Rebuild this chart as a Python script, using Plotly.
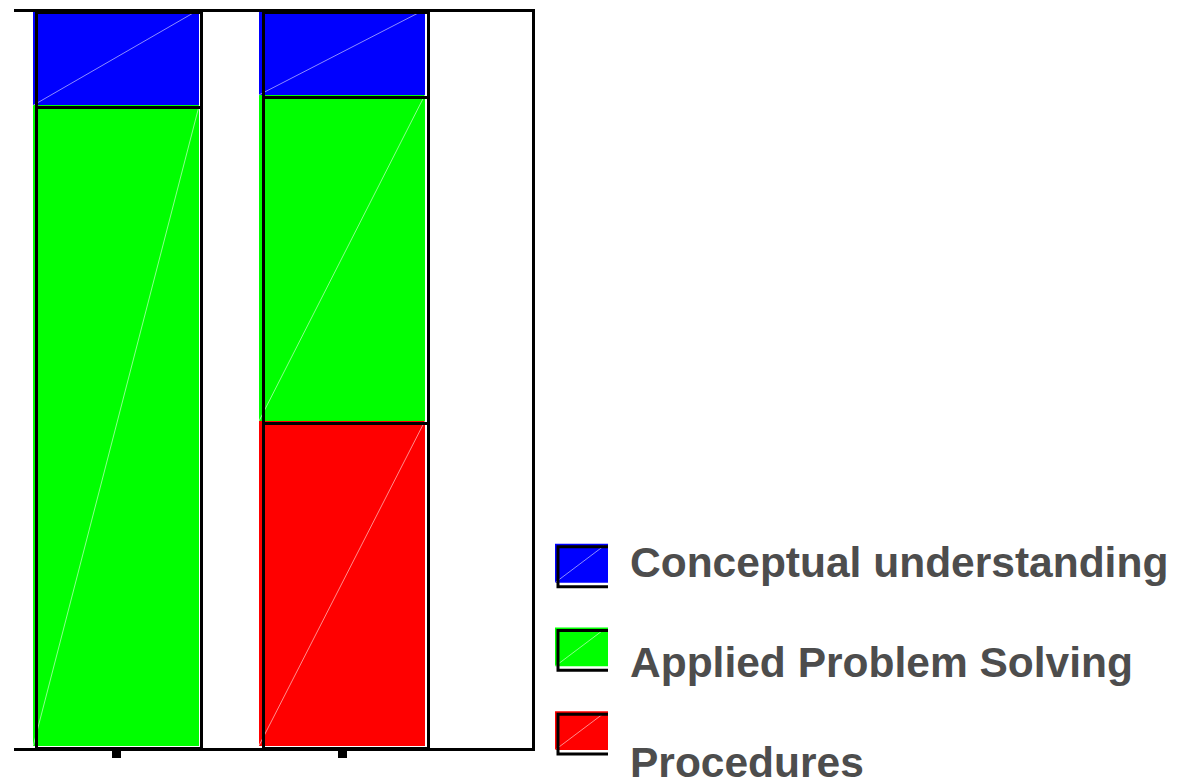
import plotly.graph_objects as go

# ---------------- data ----------------
categories = ["Group 1", "Group 2"]
procedures = [0.0, 44.1]
applied = [87.0, 44.3]
conceptual = [13.0, 11.6]
series_names = ["Procedures", "Applied Problem Solving", "Conceptual understanding"]
series_colors = ["#FF0000", "#00FF00", "#0000FF"]
legend_order = ["Conceptual understanding", "Applied Problem Solving", "Procedures"]

series = list(zip(series_names, [procedures, applied, conceptual], series_colors))
positions = list(range(len(categories)))

# ---------------- layout geometry (page pixel coords) ----------------
W, H = 1182, 783
OFF = 8                      # default body margin of the html page
WF, HF = W - OFF, H - OFF    # figure size
PX0, PX1 = 14, 532           # plot area in page coords
PY0, PY1 = 9, 748
ML, MT = PX0 - OFF, PY0 - OFF
MR, MB = WF - (PX1 - OFF), HF - (PY1 - OFF)


def px(x):
    return (x - PX0) / (PX1 - PX0)


def py(y):
    return (PY1 - y) / (PY1 - PY0)


fill_width = 0.735
outline_width = 0.729

fig = go.Figure()

# filled bars
for name, vals, col in series:
    fig.add_trace(go.Bar(
        x=positions, y=vals, name=name, width=fill_width,
        marker=dict(color=col, line=dict(width=0)),
        xaxis="x", yaxis="y", showlegend=False, hoverinfo="name+y",
    ))

# faint diagonal in each filled segment
diag_x, diag_y = [], []
base = [0.0] * len(categories)
for name, vals, col in series:
    for i, v in enumerate(vals):
        if v > 0:
            diag_x += [positions[i] - fill_width / 2, positions[i] + fill_width / 2, None]
            diag_y += [base[i], base[i] + v, None]
        base[i] += v
fig.add_trace(go.Scatter(
    x=diag_x, y=diag_y, mode="lines",
    line=dict(color="rgba(255,255,255,0.55)", width=1),
    xaxis="x", yaxis="y", showlegend=False, hoverinfo="skip",
))

# black outlines, slightly offset (shadow-like)
for name, vals, col in series:
    fig.add_trace(go.Bar(
        x=positions, y=vals, name=name, width=outline_width,
        marker=dict(color="rgba(0,0,0,0)", line=dict(color="black", width=3)),
        xaxis="x2", yaxis="y2", showlegend=False, hoverinfo="skip",
    ))

# ---------------- manual legend ----------------
shapes = []
annotations = []
sw_x0, sw_x1 = 555, 608
sw_tops = [543, 627, 711]
sw_h = 39
text_centers = [562, 662, 763]
color_of = dict(zip(series_names, series_colors))
for name, top, tc in zip(legend_order, sw_tops, text_centers):
    shapes.append(dict(type="rect", xref="paper", yref="paper",
                       x0=px(sw_x0), x1=px(sw_x1), y0=py(top + sw_h), y1=py(top),
                       fillcolor=color_of[name], line=dict(width=0)))
    shapes.append(dict(type="line", xref="paper", yref="paper",
                       x0=px(sw_x0), x1=px(sw_x1 - 4), y0=py(top + sw_h), y1=py(top + 2),
                       line=dict(color="rgba(255,255,255,0.55)", width=1)))
    ox0, oy0, oy1 = sw_x0 + 3, top + 3, top + sw_h + 4
    path = "M {a},{b} L {c},{b} L {c},{d} L {a},{d}".format(
        a=px(sw_x1), b=py(oy0), c=px(ox0), d=py(oy1))
    shapes.append(dict(type="path", xref="paper", yref="paper", path=path,
                       line=dict(color="black", width=3)))
    annotations.append(dict(
        text="<b>" + name + "</b>", xref="paper", yref="paper",
        x=px(628), y=py(tc), xanchor="left", yanchor="middle", showarrow=False,
        font=dict(family="Liberation Sans, Arial, sans-serif", size=42.5, color="#4D4D4D"),
    ))

fig.update_layout(
    width=WF, height=HF,
    margin=dict(l=ML, r=MR, t=MT, b=MB, pad=0),
    paper_bgcolor="white", plot_bgcolor="white",
    barmode="stack",
    showlegend=False,
    xaxis=dict(
        range=[-0.4532, 1.8417], domain=[0, 1],
        showline=True, linecolor="black", linewidth=3, mirror=True,
        ticks="outside", tickvals=positions, ticklen=7, tickwidth=9, tickcolor="black",
        showticklabels=False, showgrid=False, zeroline=False,
    ),
    yaxis=dict(
        range=[-0.338, 99.662], side="right",
        showline=True, linecolor="black", linewidth=3,
        ticks="", showticklabels=False, showgrid=False, zeroline=False,
    ),
    xaxis2=dict(overlaying="x", range=[-0.464, 1.8228], visible=False),
    yaxis2=dict(overlaying="y", range=[0, 100], visible=False),
    shapes=shapes,
    annotations=annotations,
)

fig.write_html("out.html")
